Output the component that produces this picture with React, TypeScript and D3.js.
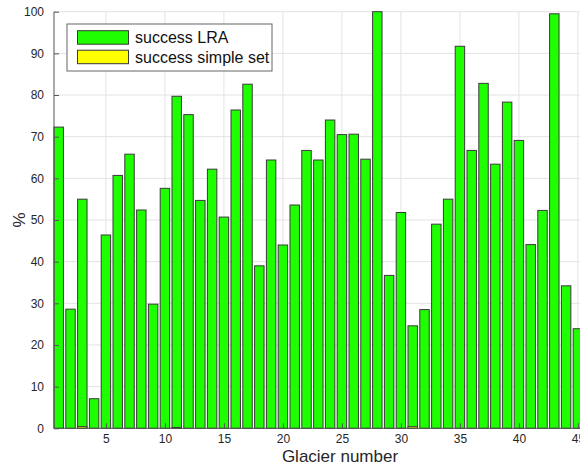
import React, { useEffect, useRef } from 'react'
import * as d3 from 'd3'

// glacier index 1..45
const glaciers = d3.range(1, 46)

// success rate with LRA (%)
const successLRA = [
  72.3, 28.6, 55.0, 7.1, 46.4, 60.7, 65.8, 52.4, 29.8, 57.6,
  79.7, 75.3, 54.7, 62.2, 50.7, 76.4, 82.6, 39.0, 64.4, 44.0,
  53.6, 66.7, 64.4, 74.0, 70.5, 70.6, 64.6, 100.0, 36.7, 51.8,
  24.6, 28.5, 49.0, 55.0, 91.7, 66.7, 82.8, 63.4, 78.3, 69.1,
  44.1, 52.3, 99.5, 34.2, 23.9
]

// success rate with the simple set (%)
const successSimple = [
  0, 0, 0.4, 0, 0, 0, 0, 0, 0, 0,
  0.2, 0, 0, 0, 0, 0, 0, 0, 0, 0,
  0, 0, 0, 0, 0, 0, 0, 0, 0, 0,
  0.4, 0, 0, 0, 0, 0, 0, 0, 0, 0,
  0, 0, 0, 0, 0
]

const xTicks = [5, 10, 15, 20, 25, 30, 35, 40, 45]
const yTicks = [0, 10, 20, 30, 40, 50, 60, 70, 80, 90, 100]
const legendLabels = ['success LRA', 'success simple set']

export default function App() {
  const svgRef = useRef<SVGSVGElement | null>(null)

  useEffect(() => {
    if (!svgRef.current) return
    const svg = d3.select(svgRef.current)
    svg.selectAll('*').remove()

    const width = 580
    const height = 474
    const left = 54
    const top = 11.7
    const bottom = 428.3
    const font = '"Liberation Sans", Arial, Helvetica, sans-serif'

    svg.attr('width', width).attr('height', height).style('background', '#fff')

    // axis extends past the right edge of the picture (it is cropped)
    const x = d3.scaleLinear().domain([0.6, 49]).range([left, left + 48.4 * 11.8])
    const y = d3.scaleLinear().domain([0, 100]).range([bottom, top])
    const bw = 0.8 * 11.8

    // grid
    const grid = svg.append('g').attr('stroke', '#e3e3e3').attr('stroke-width', 1)
    grid.selectAll('line.v')
      .data(xTicks)
      .enter()
      .append('line')
      .attr('x1', d => x(d)).attr('x2', d => x(d))
      .attr('y1', top).attr('y2', bottom)
    grid.selectAll('line.h')
      .data(yTicks.slice(1))
      .enter()
      .append('line')
      .attr('x1', left).attr('x2', width + 60)
      .attr('y1', d => y(d)).attr('y2', d => y(d))

    // bars: LRA
    svg.append('g')
      .selectAll('rect')
      .data(glaciers)
      .enter()
      .append('rect')
      .attr('x', d => x(d) - bw / 2)
      .attr('width', bw)
      .attr('y', (d, i) => y(successLRA[i]))
      .attr('height', (d, i) => y(0) - y(successLRA[i]))
      .attr('fill', '#1eff00')
      .attr('stroke', '#3a3a3a')
      .attr('stroke-width', 1)

    // bars: simple set (overlaid)
    svg.append('g')
      .selectAll('rect')
      .data(glaciers.filter((d, i) => successSimple[i] > 0))
      .enter()
      .append('rect')
      .attr('x', d => x(d) - bw / 2)
      .attr('width', bw)
      .attr('y', d => y(successSimple[d - 1]))
      .attr('height', d => y(0) - y(successSimple[d - 1]))
      .attr('fill', '#ffff00')
      .attr('stroke', '#3a3a3a')
      .attr('stroke-width', 1)

    // axes
    const yAxis = svg.append('g').attr('transform', `translate(${left},0)`)
      .call(d3.axisLeft(y).tickValues(yTicks).tickSize(-5).tickPadding(10))
    const xAxis = svg.append('g').attr('transform', `translate(0,${bottom})`)
      .call(d3.axisBottom(x).tickValues(xTicks).tickSize(-5).tickPadding(6))
    ;[yAxis, xAxis].forEach(a => {
      a.select('.domain').attr('stroke', '#555')
      a.selectAll('.tick line').attr('stroke', '#555')
      a.selectAll('text').attr('fill', '#262626').style('font-size', '12px').style('font-family', font)
    })
    yAxis.select('.domain').attr('d', `M0,${top}V${bottom}`)
    xAxis.select('.domain').attr('d', `M${left},0H${width + 60}`)

    // axis labels
    svg.append('text')
      .attr('x', 340).attr('y', 462)
      .attr('text-anchor', 'middle')
      .attr('fill', '#262626')
      .style('font-family', font).style('font-size', '17px')
      .text('Glacier number')
    svg.append('text')
      .attr('transform', 'translate(25,220) rotate(-90)')
      .attr('text-anchor', 'middle')
      .attr('fill', '#262626')
      .style('font-family', font).style('font-size', '17px')
      .text('%')

    // legend
    const lg = svg.append('g')
    lg.append('rect')
      .attr('x', 67).attr('y', 24).attr('width', 205).attr('height', 47)
      .attr('fill', '#fff').attr('stroke', '#666').attr('stroke-width', 1)
    const colors = ['#1eff00', '#ffff00']
    legendLabels.forEach((lab, i) => {
      lg.append('rect')
        .attr('x', 77.5).attr('y', 30.7 + i * 19.5).attr('width', 51).attr('height', 13.5)
        .attr('fill', colors[i]).attr('stroke', '#3a3a3a').attr('stroke-width', 1)
      lg.append('text')
        .attr('x', 135).attr('y', 43 + i * 19.5)
        .attr('fill', '#111')
        .style('font-family', font).style('font-size', '16px')
        .text(lab)
    })
  }, [])

  return (
    <svg ref={svgRef} style={{ position: 'absolute', left: 0, top: 0, display: 'block' }}></svg>
  )
}
